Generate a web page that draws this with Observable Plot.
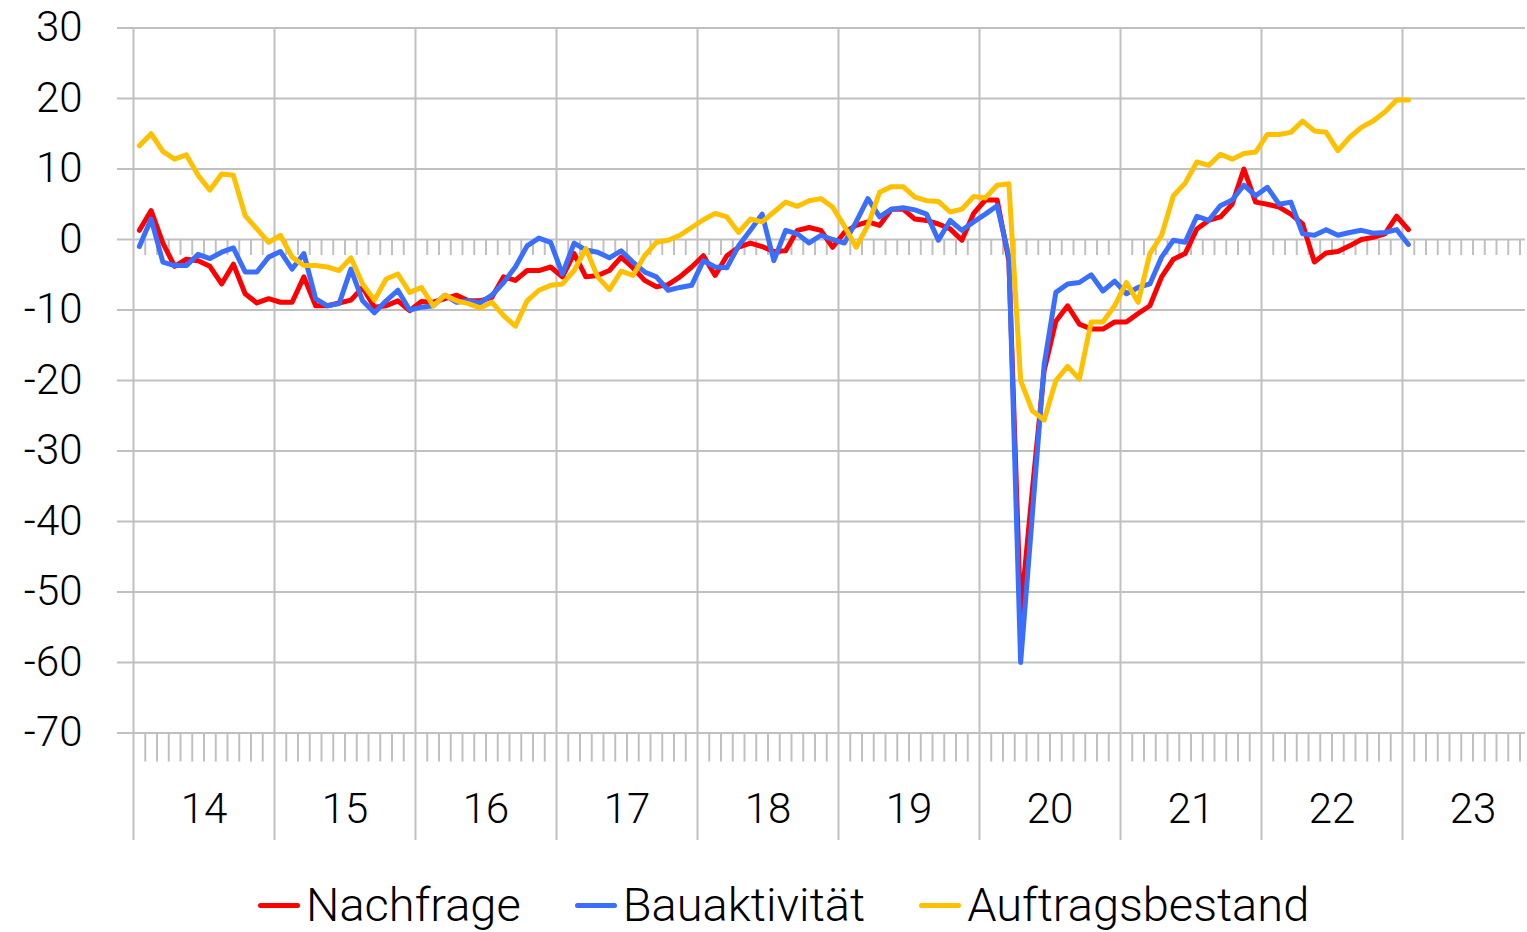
<!DOCTYPE html>
<html><head><meta charset="utf-8">
<script src="https://cdn.jsdelivr.net/npm/d3@7"></script>
<script src="https://cdn.jsdelivr.net/npm/@observablehq/plot@0.6"></script>
<style>
html,body{margin:0;padding:0;background:#fff;overflow:hidden;width:1527px;height:932px;}
#chart{position:absolute;left:0;top:0;}
#legend{position:absolute;left:258px;top:880px;display:flex;align-items:center;font-family:Roboto,sans-serif;font-weight:300;font-size:47px;line-height:50px;color:#000;white-space:nowrap;}
.item{display:flex;align-items:center;margin-right:54px}
.sw{width:42px;height:5px;border-radius:3px;margin-right:6px}
</style></head><body>
<div id="chart"></div><div id="legend"></div>
<script>
// Jahre (Achsenbeschriftung)
const yearLabels = ["14","15","16","17","18","19","20","21","22","23"];
const seriesNames = ["Nachfrage","Bauaktivität","Auftragsbestand"];
const seriesColors = ["#FF0000","#3A6EFF","#FFC000"];
const yTicks = [30,20,10,0,-10,-20,-30,-40,-50,-60,-70];

// Monatswerte Jan 2014 – Jan 2023
const nachfrage = [1.3,4.1,-0.5,-3.8,-2.8,-3.0,-3.8,-6.3,-3.5,-7.7,-9.0,-8.4,
  -8.9,-8.9,-5.3,-9.4,-9.4,-9.0,-8.6,-6.8,-9.6,-9.4,-8.7,-10.1,
  -8.8,-8.9,-8.4,-7.9,-8.7,-8.7,-8.2,-5.3,-5.8,-4.4,-4.4,-3.9,
  -5.3,-2.0,-5.3,-5.1,-4.4,-2.5,-4.0,-5.8,-6.7,-6.4,-5.3,-3.9,
  -2.3,-5.1,-2.3,-1.1,-0.5,-1.0,-1.7,-1.6,1.3,1.7,1.3,-1.1,
  1.0,2.0,2.5,2.0,4.3,4.3,2.9,2.7,2.2,1.5,-0.1,3.7,
  5.6,5.6,-3.0,-53,-35.5,-18.6,-11.6,-9.4,-12.0,-12.7,-12.7,-11.7,
  -11.7,-10.5,-9.4,-5.3,-2.8,-2.0,1.5,2.7,3.2,5.0,10.0,5.3,
  5.0,4.6,3.6,2.2,-3.2,-1.9,-1.7,-0.9,0.0,0.3,0.8,3.3,
  1.4];
const bauaktivitaet = [-1.0,2.9,-3.2,-3.7,-3.7,-2.1,-2.7,-1.8,-1.2,-4.6,-4.6,-2.5,
  -1.7,-4.2,-2.0,-8.4,-9.4,-9.1,-4.2,-8.7,-10.4,-8.7,-7.2,-10.0,
  -9.6,-9.4,-7.9,-8.9,-8.7,-9.0,-7.9,-6.1,-3.9,-0.9,0.2,-0.4,
  -4.9,-0.5,-1.5,-1.8,-2.6,-1.6,-3.2,-4.6,-5.3,-7.2,-6.8,-6.5,
  -3.0,-3.9,-4.0,-0.9,1.3,3.6,-3.0,1.3,0.8,-0.5,0.6,0.0,
  -0.5,2.5,5.8,3.2,4.3,4.5,4.2,3.6,-0.1,2.7,1.3,2.5,
  3.6,4.8,-2.4,-60,-39,-17.8,-7.5,-6.3,-6.1,-5.0,-7.3,-5.9,
  -7.7,-6.8,-6.3,-2.5,-0.1,-0.4,3.3,2.7,4.8,5.6,7.7,6.2,
  7.4,5.0,5.3,0.8,0.6,1.4,0.6,1.0,1.3,0.9,1.0,1.4,
  -0.7];
const auftragsbestand = [13.3,15.0,12.5,11.4,12.0,9.1,7.0,9.3,9.1,3.4,1.5,-0.4,
  0.6,-2.5,-3.7,-3.7,-3.9,-4.4,-2.6,-6.3,-8.6,-5.6,-4.9,-7.5,
  -6.8,-9.4,-7.9,-8.7,-9.1,-9.7,-8.9,-10.8,-12.3,-8.7,-7.2,-6.5,
  -6.3,-4.4,-1.3,-5.3,-7.1,-4.5,-5.1,-2.3,-0.4,-0.1,0.6,1.7,
  2.8,3.7,3.2,1.0,2.9,2.5,3.9,5.3,4.7,5.5,5.8,4.6,
  1.9,-1.1,2.0,6.7,7.5,7.5,6.0,5.5,5.4,3.9,4.3,6.1,
  5.9,7.7,7.9,-20,-24.3,-25.6,-20,-18,-19.8,-11.7,-11.7,-9.4,
  -6.1,-8.9,-2.0,0.6,6.2,8.0,11.0,10.5,12.1,11.4,12.2,12.4,
  14.9,14.9,15.2,16.8,15.4,15.2,12.6,14.5,15.9,16.8,18.1,19.8,
  19.8];

const allSeries = [nachfrage, bauaktivitaet, auftragsbestand];
const nMonths = yearLabels.length * 12;
const yearBounds = d3.range(0, nMonths + 1, 12);
const yearMids = yearLabels.map((d, i) => i * 12 + 6);
const monthBounds = d3.range(1, nMonths).filter(m => m % 12 !== 0);
const gridColor = "#C0C0C0";

const lineMarks = allSeries.map((vals, k) =>
  Plot.line(vals.map((v, i) => ({m: i + 0.5, v})), {
    x: "m", y: "v", stroke: seriesColors[k], strokeWidth: 5,
    strokeLinejoin: "round", strokeLinecap: "round"
  }));

const chart = Plot.plot({
  width: 1527,
  height: 860,
  marginTop: 27.5,
  marginBottom: 127.5,
  marginLeft: 133,
  marginRight: 2,
  style: {fontFamily: "Roboto, sans-serif", fontSize: "42px", color: "#000", background: "#fff"},
  x: {domain: [0, nMonths], range: [133, 133 + 141 * yearLabels.length]},
  y: {domain: [-70, 30]},
  marks: [
    Plot.gridY(yTicks, {stroke: gridColor, strokeOpacity: 1, strokeWidth: 2}),
    Plot.axisY(yTicks, {tickSize: 16, tickPadding: 35, stroke: gridColor, strokeWidth: 2, fontWeight: 300, fill: "#000", label: null, tickFormat: d => d}),
    Plot.gridX(yearBounds, {stroke: gridColor, strokeOpacity: 1, strokeWidth: 2}),
    Plot.axisX(yearBounds, {tickSize: 107.5, stroke: gridColor, strokeWidth: 2, tickFormat: () => "", label: null}),
    Plot.axisX(monthBounds, {tickSize: 29, stroke: gridColor, strokeWidth: 2, tickFormat: () => "", label: null}),
    Plot.axisX(yearMids, {tickSize: 0, tickPadding: 60, fontWeight: 300, fill: "#000", label: null, tickFormat: (d) => yearLabels[(d - 6) / 12]}),
    Plot.ruleX(monthBounds, {x: d => d, y1: () => 0, y2: () => 0, insetBottom: -16, stroke: gridColor, strokeWidth: 2}),
    ...lineMarks
  ]
});
document.getElementById("chart").appendChild(chart);

const legend = document.getElementById("legend");
seriesNames.forEach((name, k) => {
  const it = document.createElement("div");
  it.className = "item";
  const sw = document.createElement("div");
  sw.className = "sw";
  sw.style.background = seriesColors[k];
  const tx = document.createElement("span");
  tx.textContent = name;
  it.appendChild(sw); it.appendChild(tx);
  legend.appendChild(it);
});
</script>
</body></html>
